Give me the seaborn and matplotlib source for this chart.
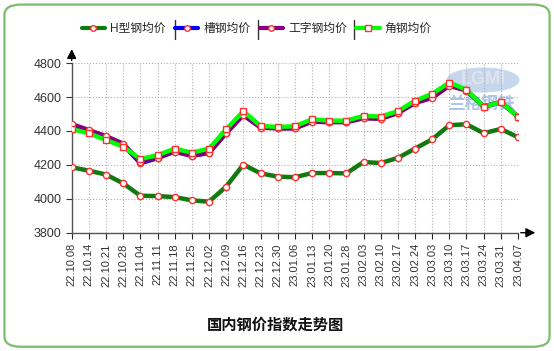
import numpy as np
import pandas as pd
import matplotlib
matplotlib.use('Agg')
import matplotlib.pyplot as plt
import seaborn as sns
from matplotlib.lines import Line2D
from matplotlib.patches import FancyBboxPatch, Ellipse

# 数据
dates = ['22.10.08', '22.10.14', '22.10.21', '22.10.28', '22.11.04', '22.11.11', '22.11.18',
         '22.11.25', '22.12.02', '22.12.09', '22.12.16', '22.12.23', '22.12.30', '23.01.06',
         '23.01.13', '23.01.20', '23.01.28', '23.02.03', '23.02.10', '23.02.17', '23.02.24',
         '23.03.03', '23.03.10', '23.03.17', '23.03.24', '23.03.31', '23.04.07']
h_steel = [4186, 4166, 4143, 4091, 4018, 4016, 4010, 3991, 3983, 4072, 4202, 4150, 4131, 4127,
           4152, 4152, 4150, 4217, 4211, 4241, 4296, 4351, 4434, 4440, 4387, 4412, 4363]
channel = [4430, 4398, 4362, 4318, 4210, 4240, 4280, 4255, 4270, 4390, 4498, 4422, 4418, 4418,
           4458, 4455, 4455, 4478, 4475, 4508, 4568, 4600, 4676, 4640, 4544, 4570, 4485]
i_beam = [4441, 4405, 4370, 4325, 4218, 4243, 4278, 4253, 4272, 4387, 4493, 4420, 4415, 4415,
          4455, 4452, 4452, 4475, 4472, 4505, 4565, 4595, 4667, 4638, 4544, 4570, 4485]
angle = [4412, 4386, 4347, 4307, 4235, 4257, 4296, 4272, 4296, 4410, 4517, 4430, 4424, 4428,
         4469, 4461, 4461, 4489, 4485, 4517, 4578, 4619, 4686, 4643, 4544, 4570, 4485]
names = ['H型钢均价', '槽钢均价', '工字钢均价', '角钢均价']
colors = ['#0f7a0f', '#0000ff', '#800080', '#00ff00']
marks = ['o', 'o', 'o', 's']

df = pd.DataFrame({'idx': np.arange(len(dates)),
                   names[0]: h_steel, names[1]: channel,
                   names[2]: i_beam, names[3]: angle})
df = df.melt(id_vars='idx', var_name='品种', value_name='价格')

sns.set_style('white')
plt.rcParams['font.family'] = ['Liberation Sans', 'Noto Sans CJK SC', 'DejaVu Sans']

fig = plt.figure(figsize=(5.54, 3.51), dpi=100)
ax = fig.add_axes([0.1294, 0.337, 0.8056, 0.483])
ax.set_facecolor('none')

# 水印, 放在坐标轴下面
fig.add_artist(Ellipse((483 / 554, 1 - 80 / 351), 72 / 554, 24 / 351, transform=fig.transFigure,
                       facecolor='#b3c9e8', edgecolor='#c8d8ee', lw=1, alpha=0.75, zorder=-2))
fig.text(483 / 554, 1 - 80 / 351, 'LGMI', ha='center', va='center', fontsize=13,
         fontweight='bold', color='#dfe4ec', zorder=-1)
fig.text(481 / 554, 1 - 104 / 351, '兰格钢铁', ha='center', va='center', fontsize=12,
         fontweight='bold', color='#9dbbe4', alpha=0.85, zorder=-1)

sns.lineplot(data=df, x='idx', y='价格', hue='品种', style='品种', hue_order=names,
             style_order=names, palette=dict(zip(names, colors)),
             markers=dict(zip(names, marks)), dashes=False, linewidth=3.2,
             markersize=4.5, markerfacecolor='white', markeredgecolor='#ff3030',
             markeredgewidth=1, legend=False, ax=ax, zorder=3)

ax.set_xlim(0, len(dates) - 1)
ax.set_ylim(3800, 4800)
ax.set_yticks(range(3800, 4801, 200))
ax.set_xticks(range(len(dates)))
ax.set_xticklabels(dates, rotation=90, fontsize=8, color='#333333')
ax.tick_params(axis='y', labelsize=9, colors='#333333', length=4, width=0.8, direction='out', left=True)
ax.tick_params(axis='x', length=4, width=0.8, direction='out', bottom=True)
ax.set_xlabel('')
ax.set_ylabel('')
ax.grid(True, linestyle=':', color='#b0b0b0', linewidth=0.8)
for s in ['top', 'right']:
    ax.spines[s].set_visible(False)
for s in ['left', 'bottom']:
    ax.spines[s].set_color('#555555')
    ax.spines[s].set_linewidth(1)

# 坐标轴箭头
ax.annotate('', xy=(0, 1.1), xytext=(0, 1), xycoords='axes fraction',
            arrowprops=dict(arrowstyle='-|>', color='black', lw=1, mutation_scale=14))
ax.annotate('', xy=(1.045, 0), xytext=(1, 0), xycoords='axes fraction',
            arrowprops=dict(arrowstyle='-|>', color='black', lw=1, mutation_scale=14))

# 图例
handles = [Line2D([], [], color=c, lw=3, marker=m, markersize=4, markerfacecolor='white',
                  markeredgecolor='#ff3030') for c, m in zip(colors, marks)]
fig.legend(handles, names, loc='center', bbox_to_anchor=(0.463, 0.917), ncol=4,
           frameon=False, fontsize=8.5, handlelength=2, handletextpad=0.4, columnspacing=0.8)
for xp in [175, 258, 354]:
    fig.add_artist(Line2D([xp / 554, xp / 554], [1 - 20 / 351, 1 - 39 / 351],
                          transform=fig.transFigure, color='#333333', lw=1))

fig.text(0.498, 0.074, '国内钢价指数走势图', ha='center', va='center', fontsize=11,
         fontweight='bold', color='#111111')

fig.add_artist(FancyBboxPatch((0.008, 0.012), 0.984, 0.975, transform=fig.transFigure,
                              boxstyle='round,pad=0,rounding_size=0.03', fill=False,
                              edgecolor='#7dbb6e', lw=1.6))

fig.savefig('out.png', dpi=100)
